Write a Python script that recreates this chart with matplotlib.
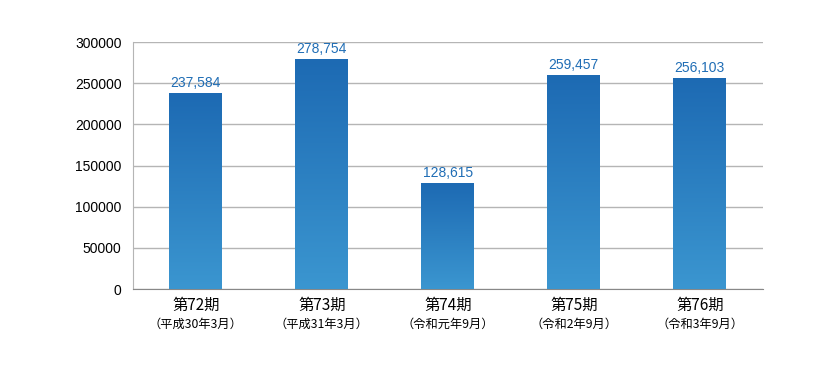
import matplotlib
matplotlib.use("Agg")
import matplotlib.pyplot as plt
import numpy as np
from matplotlib.colors import LinearSegmentedColormap

plt.rcParams['font.family'] = ['Noto Sans CJK JP', 'DejaVu Sans']

periods = ["第72期", "第73期", "第74期", "第75期", "第76期"]
dates = ["（平成30年3月）", "（平成31年3月）", "（令和元年9月）", "（令和2年9月）", "（令和3年9月）"]
values = [237584, 278754, 128615, 259457, 256103]
yticks = [0, 50000, 100000, 150000, 200000, 250000, 300000]

fig = plt.figure(figsize=(8.4, 3.66), dpi=100)
ax = fig.add_axes([0.158, 0.21, 0.75, 0.675])

cmap = LinearSegmentedColormap.from_list("bar", ["#3b96d0", "#1d6ab3"])
grad = np.linspace(0, 1, 256).reshape(-1, 1)

x = np.arange(len(values))
w = 0.42
bars = ax.bar(x, values, width=w, color="none", zorder=3)
for b, v in zip(bars, values):
    im = ax.imshow(grad, cmap=cmap, aspect="auto", origin="lower",
                   extent=[b.get_x(), b.get_x() + w, 0, v], zorder=3)
    ax.text(b.get_x() + w / 2, v + 4000, f"{v:,}", ha="center", va="bottom",
            color="#1f6db5", fontsize=10, family=["Liberation Sans", "DejaVu Sans"])

ax.set_xlim(-0.5, len(values) - 0.5)
ax.set_ylim(0, 300000)
ax.set_yticks(yticks)
ax.set_yticklabels([str(t) for t in yticks], fontsize=10, family=["Liberation Sans", "DejaVu Sans"])
ax.yaxis.grid(True, color="#b5b5b5", linewidth=1, zorder=0)
ax.set_axisbelow(True)
ax.tick_params(axis="y", length=0, pad=8)
ax.set_xticks([])

for s in ["top", "right"]:
    ax.spines[s].set_visible(False)
ax.spines["left"].set_color("#b5b5b5")
ax.spines["bottom"].set_color("#888888")

for i, (p, d) in enumerate(zip(periods, dates)):
    ax.text(i, -0.03, p, transform=ax.get_xaxis_transform(), ha="center", va="top", fontsize=11)
    ax.text(i, -0.118, d, transform=ax.get_xaxis_transform(), ha="center", va="top", fontsize=8.8)

fig.savefig("out.png", dpi=100)
